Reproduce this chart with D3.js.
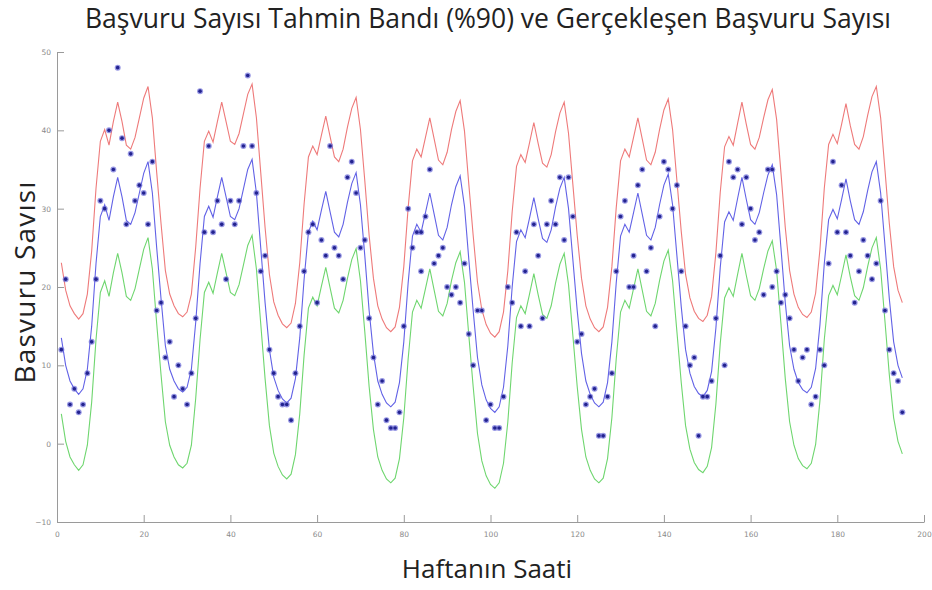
<!DOCTYPE html>
<html>
<head>
<meta charset="utf-8">
<script src="https://cdn.jsdelivr.net/npm/d3@7"></script>
<style>
  body { margin: 0; background: #fff; }
  svg { display: block; }
</style>
</head>
<body>
<svg id="root" width="932" height="590"></svg>
<script>
"use strict";

// hourly series, starting at hour 1 (one row per day)
const firstHour = 1;

const meanCount = [
  13.5, 10, 8, 7, 6.3, 7, 9.5, 15, 23, 29, 30.5, 28.5, 31.5, 34, 31.5, 28.5, 28, 29.5, 32, 34.5, 36, 32, 25,
  18.5, 12.5, 9.5, 8, 7, 6.6, 7.2, 9.5, 15.5, 23, 29, 30.3, 28.9, 31.5, 34, 31.5, 29, 28.6, 30, 32.5, 35, 36.3, 32, 25,
  18, 12, 8.5, 6.8, 5.7, 5.2, 5.8, 8.3, 13.5, 21, 27, 28.4, 27.3, 29.8, 32.2, 29.6, 27, 26.4, 28, 30.8, 33.2, 34.6, 30.5, 24,
  17, 11.5, 8, 6.3, 5.2, 4.7, 5.3, 7.8, 13, 20.5, 26.5, 28, 27, 29.5, 32, 29.3, 26.6, 26, 27.6, 30.5, 32.8, 34.2, 30.3, 23.5,
  17, 11, 7.5, 5.6, 4.5, 4, 4.7, 7.2, 12.5, 20, 25.8, 27.3, 26.3, 28.8, 31.4, 28.7, 26.2, 25.7, 27.3, 30.2, 32.6, 34, 30, 23.5,
  17, 11.5, 8, 6.3, 5.2, 4.7, 5.3, 7.8, 13, 20.5, 26.5, 28, 27, 29.5, 32, 29.3, 26.6, 26, 27.6, 30.5, 33, 34.4, 30.5, 24,
  17.5, 12, 9, 7.3, 6.4, 6, 6.8, 9.2, 14.8, 22.5, 28.3, 29.6, 28.5, 31.3, 34, 31.2, 28.6, 28, 29.5, 32, 34.3, 35.6, 31.8, 25,
  18, 12.5, 9.5, 7.8, 6.9, 6.5, 7.2, 9.6, 15.2, 23, 28.6, 29.9, 28.7, 31.2, 33.8, 31, 28.6, 28, 29.6, 32.3, 34.7, 36, 32, 25.3,
  18.5, 13, 10, 8.4
];

const upperBand = [
  23.1, 19.6, 17.6, 16.6, 15.9, 16.6, 19.1, 24.6, 32.6, 38.6, 40.1, 38.1, 41.1, 43.6, 41.1, 38.1, 37.6, 39.1, 41.6, 44.1, 45.6, 41.6, 34.6,
  28.1, 22.1, 19.1, 17.6, 16.6, 16.2, 16.8, 19.1, 25.1, 32.6, 38.6, 39.9, 38.5, 41.1, 43.6, 41.1, 38.6, 38.2, 39.6, 42.1, 44.6, 45.9, 41.6, 34.6,
  27.6, 21.6, 18.1, 16.4, 15.3, 14.8, 15.4, 17.9, 23.1, 30.6, 36.6, 38, 36.9, 39.4, 41.8, 39.2, 36.6, 36, 37.6, 40.4, 42.8, 44.2, 40.1, 33.6,
  26.6, 21.1, 17.6, 15.9, 14.8, 14.3, 14.9, 17.4, 22.6, 30.1, 36.1, 37.6, 36.6, 39.1, 41.6, 38.9, 36.2, 35.6, 37.2, 40.1, 42.4, 43.8, 39.9, 33.1,
  26.6, 20.6, 17.1, 15.2, 14.1, 13.6, 14.3, 16.8, 22.1, 29.6, 35.4, 36.9, 35.9, 38.4, 41, 38.3, 35.8, 35.3, 36.9, 39.8, 42.2, 43.6, 39.6, 33.1,
  26.6, 21.1, 17.6, 15.9, 14.8, 14.3, 14.9, 17.4, 22.6, 30.1, 36.1, 37.6, 36.6, 39.1, 41.6, 38.9, 36.2, 35.6, 37.2, 40.1, 42.6, 44, 40.1, 33.6,
  27.1, 21.6, 18.6, 16.9, 16, 15.6, 16.4, 18.8, 24.4, 32.1, 37.9, 39.2, 38.1, 40.9, 43.6, 40.8, 38.2, 37.6, 39.1, 41.6, 43.9, 45.2, 41.4, 34.6,
  27.6, 22.1, 19.1, 17.4, 16.5, 16.1, 16.8, 19.2, 24.8, 32.6, 38.2, 39.5, 38.3, 40.8, 43.4, 40.6, 38.2, 37.6, 39.2, 41.9, 44.3, 45.6, 41.6, 34.9,
  28.1, 22.6, 19.6, 18
];

const lowerBand = [
  3.8, 0.3, -1.7, -2.7, -3.4, -2.7, -0.2, 5.3, 13.3, 19.3, 20.8, 18.8, 21.8, 24.3, 21.8, 18.8, 18.3, 19.8, 22.3, 24.8, 26.3, 22.3, 15.3,
  8.8, 2.8, -0.2, -1.7, -2.7, -3.1, -2.5, -0.2, 5.8, 13.3, 19.3, 20.6, 19.2, 21.8, 24.3, 21.8, 19.3, 18.9, 20.3, 22.8, 25.3, 26.6, 22.3, 15.3,
  8.3, 2.3, -1.2, -2.9, -4, -4.5, -3.9, -1.4, 3.8, 11.3, 17.3, 18.7, 17.6, 20.1, 22.5, 19.9, 17.3, 16.7, 18.3, 21.1, 23.5, 24.9, 20.8, 14.3,
  7.3, 1.8, -1.7, -3.4, -4.5, -5, -4.4, -1.9, 3.3, 10.8, 16.8, 18.3, 17.3, 19.8, 22.3, 19.6, 16.9, 16.3, 17.9, 20.8, 23.1, 24.5, 20.6, 13.8,
  7.3, 1.3, -2.2, -4.1, -5.2, -5.7, -5, -2.5, 2.8, 10.3, 16.1, 17.6, 16.6, 19.1, 21.7, 19, 16.5, 16, 17.6, 20.5, 22.9, 24.3, 20.3, 13.8,
  7.3, 1.8, -1.7, -3.4, -4.5, -5, -4.4, -1.9, 3.3, 10.8, 16.8, 18.3, 17.3, 19.8, 22.3, 19.6, 16.9, 16.3, 17.9, 20.8, 23.3, 24.7, 20.8, 14.3,
  7.8, 2.3, -0.7, -2.4, -3.3, -3.7, -2.9, -0.5, 5.1, 12.8, 18.6, 19.9, 18.8, 21.6, 24.3, 21.5, 18.9, 18.3, 19.8, 22.3, 24.6, 25.9, 22.1, 15.3,
  8.3, 2.8, -0.2, -1.9, -2.8, -3.2, -2.5, -0.1, 5.5, 13.3, 18.9, 20.2, 19, 21.5, 24.1, 21.3, 18.9, 18.3, 19.9, 22.6, 25, 26.3, 22.3, 15.6,
  8.8, 3.3, 0.3, -1.3
];

// observed counts (hour, value); last three are extra marks seen in crowded spots
const observedHours = [
  1, 2, 3, 4, 5, 6, 7, 8, 9, 10, 11, 12, 13, 14, 15, 16, 17, 18, 19, 20, 21, 22, 23,
  24, 25, 26, 27, 28, 29, 30, 31, 32, 33, 34, 35, 36, 37, 38, 39, 40, 41, 42, 43, 44, 45, 46, 47,
  48, 49, 50, 51, 52, 53, 54, 55, 56, 57, 58, 59, 60, 61, 62, 63, 64, 65, 66, 67, 68, 69, 70, 71,
  72, 73, 74, 75, 76, 77, 78, 79, 80, 81, 82, 83, 84, 85, 86, 87, 88, 89, 90, 91, 92, 93, 94, 95,
  96, 97, 98, 99, 100, 101, 102, 103, 104, 105, 106, 107, 108, 109, 110, 111, 112, 113, 114, 115, 116, 117, 118, 119,
  120, 121, 122, 123, 124, 125, 126, 127, 128, 129, 130, 131, 132, 133, 134, 135, 136, 137, 138, 139, 140, 141, 142, 143,
  144, 145, 146, 147, 148, 149, 150, 151, 152, 153, 154, 155, 156, 157, 158, 159, 160, 161, 162, 163, 164, 165, 166, 167,
  168, 169, 170, 171, 172, 173, 174, 175, 176, 177, 178, 179, 180, 181, 182, 183, 184, 185, 186, 187, 188, 189, 190, 191,
  192, 193, 194, 195,
  84, 133, 165
];
const observedCounts = [
  12, 21, 5, 7, 4, 5, 9, 13, 21, 31, 30, 40, 35, 48, 39, 28, 37, 31, 33, 32, 28, 36, 17,
  18, 11, 13, 6, 10, 7, 5, 9, 16, 45, 27, 38, 27, 31, 28, 21, 31, 28, 31, 38, 47, 38, 32, 22,
  24, 12, 9, 6, 5, 5, 3, 9, 15, 22, 27, 28, 18, 26, 24, 38, 25, 24, 21, 34, 36, 32, 25, 26,
  16, 11, 5, 8, 3, 2, 2, 4, 15, 30, 25, 27, 27, 29, 35, 23, 24, 25, 20, 19, 20, 18, 23, 14,
  10, 17, 17, 3, 5, 2, 2, 6, 20, 18, 27, 15, 22, 15, 28, 24, 16, 28, 31, 28, 34, 26, 34, 29,
  13, 14, 5, 6, 7, 1, 1, 6, 9, 22, 29, 31, 20, 20, 33, 35, 22, 25, 15, 29, 36, 35, 30, 33,
  22, 15, 10, 11, 1, 6, 6, 8, 16, 24, 10, 36, 34, 35, 28, 34, 30, 26, 27, 19, 35, 35, 22, 18,
  19, 16, 12, 8, 11, 12, 5, 6, 12, 10, 23, 36, 27, 33, 27, 24, 18, 22, 26, 24, 21, 23, 31, 17,
  12, 9, 8, 4,
  22, 24, 20
];

const xTicks = [0, 20, 40, 60, 80, 100, 120, 140, 160, 180, 200];
const yTicks = [-10, 0, 10, 20, 30, 40, 50];

const titleText = "Başvuru Sayısı Tahmin Bandı (%90) ve Gerçekleşen Başvuru Sayısı";
const xLabelText = "Haftanın Saati";
const yLabelText = "Basvuru Savısı";

const svg = d3.select("#root");

const x = d3.scaleLinear().domain([0, 200]).range([57, 924]);
const y = d3.scaleLinear().domain([-10, 50]).range([522, 52]);

function hourSeries(values) {
  return values.map((v, i) => ({ hour: firstHour + i, value: v }));
}

// axes (MATLAB style: ticks inside, grey)
const xAxis = d3.axisBottom(x).tickValues(xTicks).tickSizeInner(-7).tickSizeOuter(0).tickPadding(10);
const yAxis = d3.axisLeft(y).tickValues(yTicks).tickSizeInner(-7).tickSizeOuter(0).tickPadding(6);

const gx = svg.append("g").attr("transform", `translate(0, ${y(-10)})`).call(xAxis);
const gy = svg.append("g").attr("transform", `translate(${x(0)}, 0)`).call(yAxis);

[gx, gy].forEach((g) => {
  g.select(".domain").attr("stroke", "#9a9a9a");
  g.selectAll(".tick line").attr("stroke", "#9a9a9a");
  g.selectAll(".tick text")
    .attr("fill", "#8a8a8a")
    .style("font-family", "'DejaVu Sans', sans-serif")
    .style("font-size", "7.5px");
});

const line = d3
  .line()
  .x((d) => x(d.hour))
  .y((d) => y(d.value));

const plot = svg.append("g");

const bands = [
  { name: "upper", values: upperBand, color: "#ee7a7a" },
  { name: "lower", values: lowerBand, color: "#6fd66f" },
  { name: "mean", values: meanCount, color: "#6262e6" },
];

plot
  .selectAll("path.band")
  .data(bands)
  .join("path")
  .attr("class", "band")
  .attr("d", (d) => line(hourSeries(d.values)))
  .attr("fill", "none")
  .attr("stroke", (d) => d.color)
  .attr("stroke-width", 1.1);

const observed = observedHours.map((h, i) => ({ hour: h, value: observedCounts[i] }));

plot
  .selectAll("circle.halo")
  .data(observed)
  .join("circle")
  .attr("class", "halo")
  .attr("cx", (d) => x(d.hour))
  .attr("cy", (d) => y(d.value))
  .attr("r", 3)
  .attr("fill", "#6c6cd8")
  .attr("opacity", 0.7);

plot
  .selectAll("circle.dot")
  .data(observed)
  .join("circle")
  .attr("class", "dot")
  .attr("cx", (d) => x(d.hour))
  .attr("cy", (d) => y(d.value))
  .attr("r", 1.8)
  .attr("fill", "#23238f");

// texts
svg
  .append("text")
  .attr("x", 488)
  .attr("y", 28)
  .attr("text-anchor", "middle")
  .attr("fill", "#222")
  .style("font-family", "'Open Sans', sans-serif")
  .style("font-size", "26.5px")
  .text(titleText);

svg
  .append("text")
  .attr("x", 487)
  .attr("y", 578)
  .attr("text-anchor", "middle")
  .attr("fill", "#222")
  .style("font-family", "'Open Sans', sans-serif")
  .style("font-size", "26px")
  .text(xLabelText);

svg
  .append("text")
  .attr("transform", "translate(35, 282) rotate(-90)")
  .attr("text-anchor", "middle")
  .attr("fill", "#222")
  .style("font-family", "'Open Sans', sans-serif")
  .style("font-size", "28px")
  .style("letter-spacing", "1.2px")
  .text(yLabelText);
</script>
</body>
</html>
